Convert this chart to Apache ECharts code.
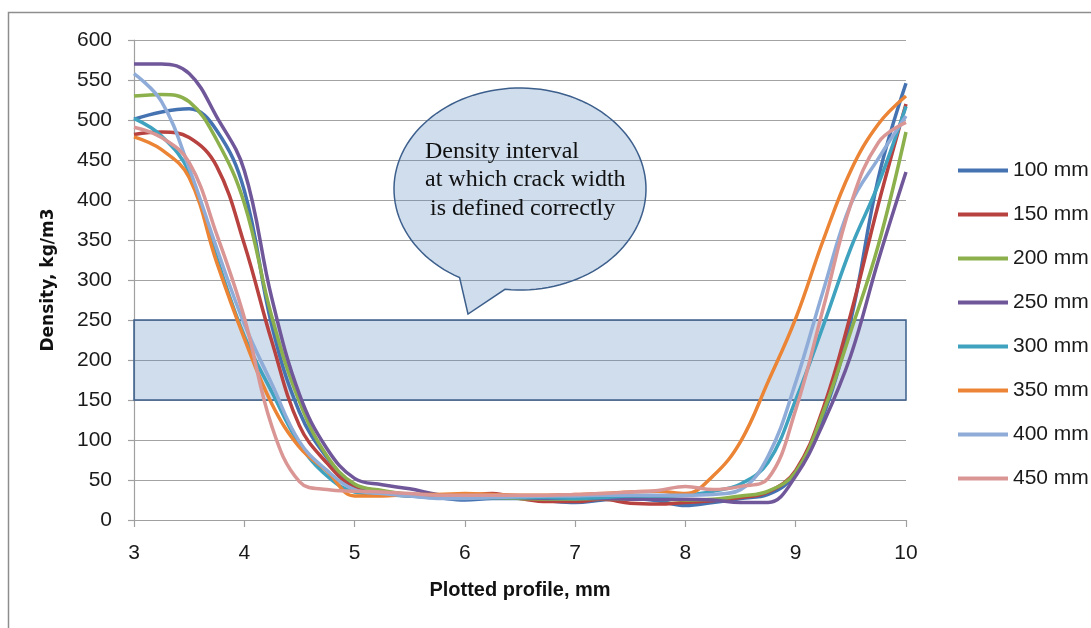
<!DOCTYPE html>
<html>
<head>
<meta charset="utf-8">
<script src="https://cdn.jsdelivr.net/npm/echarts@6/dist/echarts.min.js"></script>
<style>
html,body{margin:0;padding:0;background:#fff;}
#chart{width:1091px;height:628px;}
</style>
</head>
<body>
<div id="chart"></div>
<script>
// Profile positions, mm
const xs = [3, 3.25, 3.5, 3.75, 4, 4.25, 4.5, 4.75, 5, 5.25, 5.5, 5.75, 6, 6.25, 6.5, 6.75, 7, 7.25, 7.5, 7.75, 8, 8.25, 8.5, 8.75, 9, 9.25, 9.5, 9.75, 10];
// Density values, kg/m3
const s100 = [501, 510, 514, 487, 412, 243, 135, 78, 43, 35, 31, 28, 25, 27, 27, 24, 22, 25, 27, 24, 18, 22, 27, 32, 58, 130, 250, 428, 546];
const s150 = [482, 485, 478, 442, 345, 223, 118, 71, 40, 33, 30, 29, 30, 33, 27, 23, 23, 26, 21, 20, 22, 24, 28, 35, 62, 140, 258, 395, 520];
const s200 = [530, 532, 523, 475, 396, 254, 148, 80, 45, 37, 32, 29, 28, 28, 27, 26, 26, 27, 26, 26, 25, 26, 30, 36, 60, 135, 236, 344, 485];
const s250 = [570, 570, 558, 504, 437, 277, 157, 89, 52, 44, 39, 32, 29, 29, 28, 27, 27, 27, 26, 26, 26, 25, 22, 22, 55, 121, 206, 325, 435];
const s300 = [502, 480, 435, 328, 230, 160, 95, 55, 35, 32, 30, 28, 28, 28, 28, 28, 27, 28, 30, 30, 31, 36, 45, 72, 150, 243, 340, 420, 517];
const s350 = [479, 463, 428, 322, 227, 145, 91, 61, 30, 30, 32, 32, 33, 32, 31, 31, 32, 33, 35, 36, 33, 55, 98, 173, 252, 350, 437, 495, 530];
const s400 = [558, 523, 440, 340, 245, 170, 98, 62, 38, 33, 30, 27, 27, 28, 29, 30, 30, 31, 31, 31, 31, 32, 38, 80, 172, 287, 395, 452, 505];
const s450 = [491, 478, 447, 357, 253, 117, 48, 38, 36, 35, 33, 31, 31, 31, 31, 31, 32, 33, 35, 37, 42, 38, 42, 52, 138, 265, 395, 472, 497];
const seriesNames = ['100 mm', '150 mm', '200 mm', '250 mm', '300 mm', '350 mm', '400 mm', '450 mm'];
const seriesValues = [s100, s150, s200, s250, s300, s350, s400, s450];
const colors = ['#4573B2', '#B8423F', '#8CB04C', '#70579A', '#3FA2BE', '#EB8535', '#8FACD8', '#D99694'];
// Density interval band
const bandLow = 150, bandHigh = 250;
const bubbleLines = ['Density interval', 'at which crack width', 'is defined correctly'];

// Speech-bubble outline (annotation shape): ellipse arc + pointer tail
function bubblePoints() {
  const cx = 520, cy = 189, rx = 126, ry = 101;
  const a0 = Math.atan2((289 - cy) / ry, (505 - cx) / rx);
  const a1 = Math.atan2((277 - cy) / ry, (460 - cx) / rx);
  const pts = [];
  let end = a1;
  while (end > a0) end -= 2 * Math.PI;
  const n = 120;
  for (let i = 0; i <= n; i++) {
    const t = a0 + (end - a0) * i / n;
    pts.push([cx + rx * Math.cos(t), cy + ry * Math.sin(t)]);
  }
  pts.push([468, 314]);
  return pts;
}

const chart = echarts.init(document.getElementById('chart'), null, {renderer: 'canvas'});

const lineSeries = seriesNames.map((name, k) => ({
  name: name,
  type: 'line',
  data: xs.map((x, i) => [x, seriesValues[k][i]]),
  smooth: 0.4,
  showSymbol: false,
  symbol: 'none',
  lineStyle: {width: 3.5, color: colors[k]},
  itemStyle: {color: colors[k]},
  emphasis: {disabled: true},
  z: 2
}));

lineSeries.push({
  name: 'band',
  type: 'line',
  data: [],
  z: 10,
  silent: true,
  markArea: {
    silent: true,
    itemStyle: {color: 'rgba(79,129,189,0.27)', borderColor: '#3D5F8C', borderWidth: 1.5},
    data: [[{coord: [3, bandHigh]}, {coord: [10, bandLow]}]]
  }
});

const labelFont = 'Liberation Sans';

const option = {
  animation: false,
  backgroundColor: '#ffffff',
  color: colors,
  grid: {left: 134, right: 185, top: 40, bottom: 108, containLabel: false},
  legend: {
    data: seriesNames,
    orient: 'vertical',
    left: 953,
    top: 155,
    itemWidth: 50,
    itemHeight: 4,
    itemGap: 23,
    icon: 'rect',
    selectedMode: false,
    textStyle: {fontFamily: labelFont, fontSize: 21, color: '#1a1a1a', lineHeight: 20}
  },
  xAxis: {
    type: 'value',
    min: 3,
    max: 10,
    interval: 1,
    name: 'Plotted profile, mm',
    nameLocation: 'middle',
    nameGap: 60,
    nameTextStyle: {fontFamily: labelFont, fontWeight: 'bold', fontSize: 20, color: '#111'},
    axisLine: {show: true, onZero: false, lineStyle: {color: '#A0A0A0', width: 1.2}},
    axisTick: {show: true, inside: false, length: 7, lineStyle: {color: '#A0A0A0', width: 1.2}},
    splitLine: {show: false},
    axisLabel: {fontFamily: labelFont, fontSize: 21, color: '#1a1a1a', margin: 23}
  },
  yAxis: {
    type: 'value',
    min: 0,
    max: 600,
    interval: 50,
    name: 'Density, kg/m3',
    nameLocation: 'middle',
    nameGap: 77,
    nameTextStyle: {fontFamily: 'DejaVu Sans', fontWeight: 'bold', fontSize: 17, color: '#111'},
    axisLine: {show: true, lineStyle: {color: '#A0A0A0', width: 1.2}},
    axisTick: {show: true, inside: false, length: 6, lineStyle: {color: '#A0A0A0', width: 1.2}},
    splitLine: {show: true, lineStyle: {color: '#A3A3A3', width: 1.2}},
    axisLabel: {fontFamily: labelFont, fontSize: 21, color: '#1a1a1a', margin: 22}
  },
  series: lineSeries,
  graphic: [
    {
      type: 'rect',
      silent: true,
      z: 0,
      shape: {x: 8.5, y: 12.5, width: 1200, height: 800},
      style: {fill: 'none', stroke: '#8E8E8E', lineWidth: 1.5}
    },
    {
      type: 'polygon',
      silent: true,
      z: 100,
      shape: {points: bubblePoints()},
      style: {fill: 'rgba(79,129,189,0.27)', stroke: '#3D5F8C', lineWidth: 1.5}
    },
    {
      type: 'text', silent: true, z: 101,
      style: {text: bubbleLines[0], x: 425, y: 152, fill: '#111', font: '24px "Liberation Serif"', verticalAlign: 'middle', align: 'left'}
    },
    {
      type: 'text', silent: true, z: 101,
      style: {text: bubbleLines[1], x: 425, y: 180, fill: '#111', font: '24px "Liberation Serif"', verticalAlign: 'middle', align: 'left'}
    },
    {
      type: 'text', silent: true, z: 101,
      style: {text: bubbleLines[2], x: 430, y: 208.5, fill: '#111', font: '24px "Liberation Serif"', verticalAlign: 'middle', align: 'left'}
    }
  ]
};

chart.setOption(option);
</script>
</body>
</html>
